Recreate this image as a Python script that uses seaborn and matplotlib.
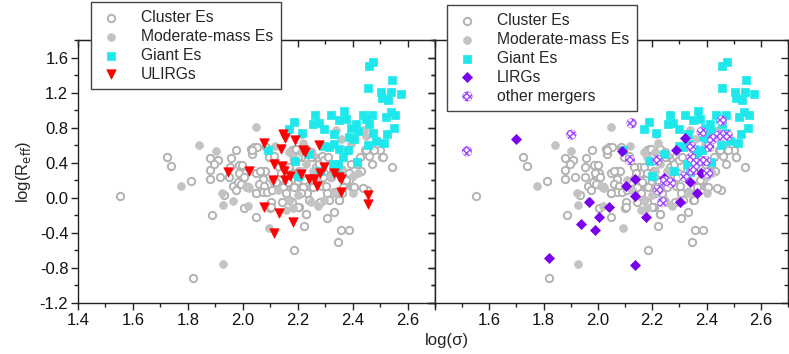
import matplotlib
matplotlib.use("Agg")
import matplotlib.pyplot as plt
import seaborn as sns
import numpy as np
import pandas as pd
from matplotlib.ticker import MultipleLocator

# ---------------- data ----------------
cluster_x = [1.552, 1.723, 1.739, 1.812, 1.820, 1.879, 1.908, 1.879, 1.879, 1.887, 1.896, 1.917, 1.933,
             1.957, 1.977, 1.954, 1.951, 1.963, 1.975, 1.987, 1.999, 2.005, 1.993, 1.981, 2.017, 2.005,
             2.047, 2.029, 2.041, 2.053, 2.035, 2.047, 2.066, 2.081, 2.072, 2.059, 2.078, 2.047, 2.072,
             2.090, 2.108, 2.099, 2.102, 2.114, 2.132, 2.150, 2.156, 2.138, 2.156, 2.144, 2.186, 2.174,
             2.168, 2.186, 2.205, 2.180, 2.192, 2.211, 2.229, 2.247, 2.259, 2.180, 2.205, 2.223, 2.229,
             2.186, 2.211, 2.223, 2.235, 2.247, 2.265, 2.277, 2.289, 2.295, 2.289, 2.307, 2.283, 2.305,
             2.332, 2.346, 2.358, 2.388, 2.350, 2.362, 2.374, 2.386, 2.398, 2.416, 2.428, 2.446, 2.465,
             2.459, 2.471, 2.501, 2.507, 2.543, 2.452, 2.438,
             2.133, 2.139, 2.121, 2.145, 2.158, 2.170, 2.164, 2.182, 2.188, 2.200, 2.194, 2.206, 2.218,
             2.212, 2.200, 2.230, 2.242, 2.255, 2.261, 2.267, 2.279, 2.248, 2.297, 2.309, 2.291, 2.303,
             2.321, 2.327, 2.333, 2.315, 2.352, 2.364, 2.376, 2.388, 2.394, 2.406, 2.430, 2.448, 2.479,
             2.509, 2.382, 2.061, 2.048, 2.103, 2.097, 2.115, 2.085, 2.033, 1.988, 2.006, 1.994, 2.018]
cluster_y = [0.02, 0.47, 0.36, 0.19, -0.92, 0.45, 0.43, 0.32, 0.21, -0.20, 0.39, 0.24, 0.03,
             0.45, 0.54, 0.35, 0.24, 0.14, 0.09, 0.37, 0.37, 0.28, 0.24, 0.18, 0.12, -0.12,
             -0.22, 0.56, 0.58, 0.58, 0.50, 0.28, 0.31, 0.31, 0.22, 0.16, 0.14, 0.05, 0.07,
             0.07, 0.09, -0.12, -0.05, 0.18, 0.22, 0.35, 0.28, 0.14, 0.09, -0.05, 0.12, 0.20,
             0.35, 0.28, 0.31, 0.54, 0.56, 0.46, 0.56, 0.52, 0.46, -0.05, -0.10, -0.32, -0.18,
             -0.60, 0.12, 0.20, 0.05, 0.12, 0.35, 0.43, 0.48, 0.28, 0.14, 0.05, -0.05, -0.23,
             -0.16, -0.50, -0.37, -0.37, -0.03, 0.05, 0.16, 0.20, 0.12, 0.39, 0.46, 0.54, 0.58,
             0.48, 0.39, 0.54, 0.46, 0.35, 0.09, 0.11,
             0.35, 0.28, 0.18, 0.12, 0.05, -0.03, 0.18, 0.28, 0.43, 0.46, 0.56, 0.24, 0.12,
             0.05, -0.10, -0.18, -0.03, 0.12, 0.20, 0.31, 0.39, 0.46, 0.43, 0.46, 0.24, 0.14,
             0.24, 0.31, 0.07, -0.03, -0.03, 0.12, 0.20, 0.28, 0.39, 0.12, 0.31, 0.54, 0.54,
             0.46, 0.54, 0.31, 0.05, -0.10, 0.46, 0.48, 0.58, 0.54, 0.28, 0.24, 0.16, 0.12]

moderate_x = [1.842, 1.901, 1.776, 1.924, 1.927, 1.966, 2.018, 1.927, 2.048, 2.094, 2.012, 2.024, 2.119,
              2.106, 2.127, 2.170, 2.182, 2.212, 2.215, 2.221, 2.245, 2.339, 2.357, 2.394, 2.442, 2.448,
              2.255, 2.273, 2.321, 2.333, 2.400, 2.403, 2.273, 2.297, 2.170, 2.182, 2.200, 2.212, 2.230,
              2.309, 2.158, 2.250, 2.343, 2.360, 2.420]
moderate_y = [0.60, 0.53, 0.14, 0.06, -0.08, -0.04, -0.09, -0.76, 0.81, -0.34, 0.13, 0.11, 0.59,
              0.20, 0.09, 0.52, 0.46, 0.52, 0.73, 0.63, 0.50, 0.77, 0.67, 0.61, 0.77, 0.71,
              0.31, 0.18, 0.25, 0.05, 0.05, 0.25, -0.09, -0.03, -0.03, -0.12, 0.03, 0.31, 0.39,
              0.58, -0.14, -0.05, 0.39, 0.33, 0.28]

giant_x = [2.091, 2.170, 2.188, 2.215, 2.190, 2.200, 2.242, 2.264, 2.257, 2.276, 2.297, 2.321, 2.333,
           2.349, 2.367, 2.376, 2.394, 2.388, 2.412, 2.436, 2.448, 2.458, 2.470, 2.458, 2.476, 2.457,
           2.503, 2.507, 2.529, 2.545, 2.541, 2.576, 2.521, 2.539, 2.555, 2.552, 2.527, 2.515, 2.485,
           2.455, 2.473, 2.418, 2.297, 2.315, 2.333, 2.352, 2.364, 2.382, 2.404, 2.327, 2.345, 2.415,
           2.282, 2.340]
giant_y = [0.55, 0.78, 0.86, 0.74, 0.42, 0.25, 0.50, 0.95, 0.84, 0.85, 0.78, 0.94, 0.73,
           0.89, 0.99, 0.90, 0.80, 0.69, 0.84, 0.95, 0.90, 0.84, 0.95, 1.50, 1.55, 1.25,
           1.21, 1.14, 1.12, 1.34, 1.21, 1.18, 0.92, 0.98, 0.95, 0.80, 0.73, 0.62, 0.65,
           0.60, 0.74, 0.76, 0.59, 0.58, 0.61, 0.56, 0.46, 0.54, 0.67, 0.39, 0.39, 0.41,
           0.31, 0.30]

ulirg_x = [2.079, 2.145, 2.155, 2.192, 2.140, 2.221, 2.227, 2.276, 2.115, 2.142, 2.150, 1.948, 2.022,
           2.109, 2.154, 2.173, 2.212, 2.242, 2.261, 2.270, 2.282, 2.297, 2.333, 2.349, 2.358, 2.358,
           2.076, 2.133, 2.182, 2.115, 2.455, 2.455]
ulirg_y = [0.62, 0.73, 0.68, 0.66, 0.56, 0.55, 0.52, 0.60, 0.39, 0.36, 0.31, 0.29, 0.31,
           0.20, 0.20, 0.25, 0.27, 0.21, 0.21, 0.14, 0.28, 0.35, 0.28, 0.24, 0.22, 0.07,
           -0.10, -0.17, -0.28, -0.40, 0.03, -0.07]

lirg_x = [1.697, 1.818, 1.939, 1.966, 1.988, 2.003, 2.039, 2.087, 2.105, 2.138, 2.138, 2.138, 2.177,
          2.243, 2.289, 2.301, 2.321, 2.339, 2.365, 2.380]
lirg_y = [0.67, -0.69, -0.30, -0.05, -0.37, -0.22, -0.11, 0.53, 0.14, 0.21, 0.02, -0.77, -0.22,
          0.23, 0.55, -0.05, 0.68, 0.18, 0.06, 0.28]

merger_x = [1.518, 1.902, 2.124, 2.118, 2.219, 2.223, 2.237, 2.247, 2.269, 2.319, 2.344, 2.344, 2.350,
            2.362, 2.386, 2.398, 2.382, 2.410, 2.406, 2.422, 2.446, 2.456, 2.461, 2.479]
merger_y = [0.53, 0.72, 0.85, 0.43, 0.43, 0.09, -0.05, 0.19, 0.17, 0.24, 0.58, 0.46, 0.31,
            0.39, 0.42, 0.42, 0.75, 0.58, 0.28, 0.67, 0.71, 0.88, 0.71, 0.71]

x_ticks = [1.4, 1.6, 1.8, 2.0, 2.2, 2.4, 2.6]
y_ticks = [-1.2, -0.8, -0.4, 0.0, 0.4, 0.8, 1.2, 1.6]

# ---------------- style ----------------
sns.set_style("ticks")
plt.rcParams['font.family'] = ['Liberation Sans', 'DejaVu Sans']
plt.rcParams['hatch.linewidth'] = 1.0
FS_TICK = 12
FS_LEG = 11.3
FS_LAB = 12

C_OPEN = '#b3b3b3'
C_FILL = '#c3c3c3'
C_CYAN = '#1fe8ec'
C_RED = '#ff0000'
C_PURP = '#7a00f0'
C_MERG = '#9a40ff'
plt.rcParams['hatch.color'] = C_MERG

W, H = 789, 354
fig = plt.figure(figsize=(W / 100, H / 100), dpi=100)
axL = fig.add_axes([78 / W, 1 - 303 / H, (435 - 78) / W, (303 - 40) / H])
axR = fig.add_axes([435 / W, 1 - 303 / H, (788 - 435) / W, (303 - 40) / H])


def base(ax):
    sns.scatterplot(x=cluster_x, y=cluster_y, ax=ax, marker='o', s=28, facecolor='white',
                    edgecolor=C_OPEN, linewidth=1.4, label='Cluster Es', zorder=2)
    sns.scatterplot(x=moderate_x, y=moderate_y, ax=ax, marker='o', s=32, color=C_FILL,
                    edgecolor=C_FILL, linewidth=0.5, label='Moderate-mass Es', zorder=3)
    sns.scatterplot(x=giant_x, y=giant_y, ax=ax, marker='s', s=26, color=C_CYAN,
                    edgecolor=C_CYAN, linewidth=0.5, label='Giant Es', zorder=4)


base(axL)
sns.scatterplot(x=ulirg_x, y=ulirg_y, ax=axL, marker='v', s=46, color=C_RED,
                edgecolor=C_RED, linewidth=0.5, label='ULIRGs', zorder=5)

base(axR)
sns.scatterplot(x=lirg_x, y=lirg_y, ax=axR, marker='D', s=26, color=C_PURP,
                edgecolor=C_PURP, linewidth=0.5, label='LIRGs', zorder=5)
sns.scatterplot(x=merger_x, y=merger_y, ax=axR, marker='o', s=48, facecolor='white',
                edgecolor=C_MERG, linewidth=0.3, hatch='xxxxx', label='other mergers', zorder=6)

for ax, lab_y in ((axL, True), (axR, False)):
    ax.set_xlim(1.4, 2.7)
    ax.set_ylim(-1.2, 1.8)
    ax.set_xticks(x_ticks)
    ax.set_yticks(y_ticks)
    ax.xaxis.set_minor_locator(MultipleLocator(0.1))
    ax.yaxis.set_minor_locator(MultipleLocator(0.2))
    ax.tick_params(which='both', direction='out', top=False, right=False, color='#222222',
                   labelsize=FS_TICK, pad=2, labelcolor='#111111')
    ax.tick_params(which='major', length=5, width=1)
    ax.tick_params(which='minor', length=3, width=1)
    for sp in ax.spines.values():
        sp.set_visible(True)
        sp.set_color('#222222')
        sp.set_linewidth(1.0)
    sec_x = ax.secondary_xaxis('top')
    sec_x.set_xticks(x_ticks)
    sec_x.xaxis.set_minor_locator(MultipleLocator(0.1))
    sec_x.tick_params(which='both', direction='in', labeltop=False, color='#222222')
    sec_x.tick_params(which='major', length=5, width=1)
    sec_x.tick_params(which='minor', length=3, width=1)
    sec_x.spines['top'].set_color('#222222')
    sec_y = ax.secondary_yaxis('right')
    sec_y.set_yticks(y_ticks)
    sec_y.yaxis.set_minor_locator(MultipleLocator(0.2))
    sec_y.tick_params(which='both', direction='in', labelright=False, color='#222222')
    sec_y.tick_params(which='major', length=5, width=1)
    sec_y.tick_params(which='minor', length=3, width=1)
    sec_y.spines['right'].set_color('#222222')
    if not lab_y:
        ax.tick_params(axis='y', labelleft=False)
    ax.set_xlabel('')
    ax.set_ylabel('')

axR.set_xticks(x_ticks)
axR.set_xticklabels([''] + [f'{v:.1f}' for v in x_ticks[1:]])
axL.set_yticklabels([f'{v:.1f}' for v in y_ticks])

axL.set_ylabel(r'log(R$_{\rm eff}$)', fontsize=FS_LAB, labelpad=5)
fig.text(447 / W, 1 - 340 / H, 'log(σ)', ha='center', va='center', fontsize=FS_LAB)

leg_kw = dict(frameon=True, fancybox=False, framealpha=1, edgecolor='#444444', fontsize=FS_LEG,
              handletextpad=1.1, labelspacing=0.25, borderpad=0.5, handlelength=1.6,
              bbox_transform=fig.transFigure, loc='upper left', borderaxespad=0)
lL = axL.legend(bbox_to_anchor=(91 / W, 1 - 2 / H), **leg_kw)
lR = axR.legend(bbox_to_anchor=(447 / W, 1 - 5 / H), **leg_kw)
for lg in (lL, lR):
    lg.set_zorder(20)
    lg.get_frame().set_linewidth(1.0)

fig.savefig('out.png', dpi=100)
